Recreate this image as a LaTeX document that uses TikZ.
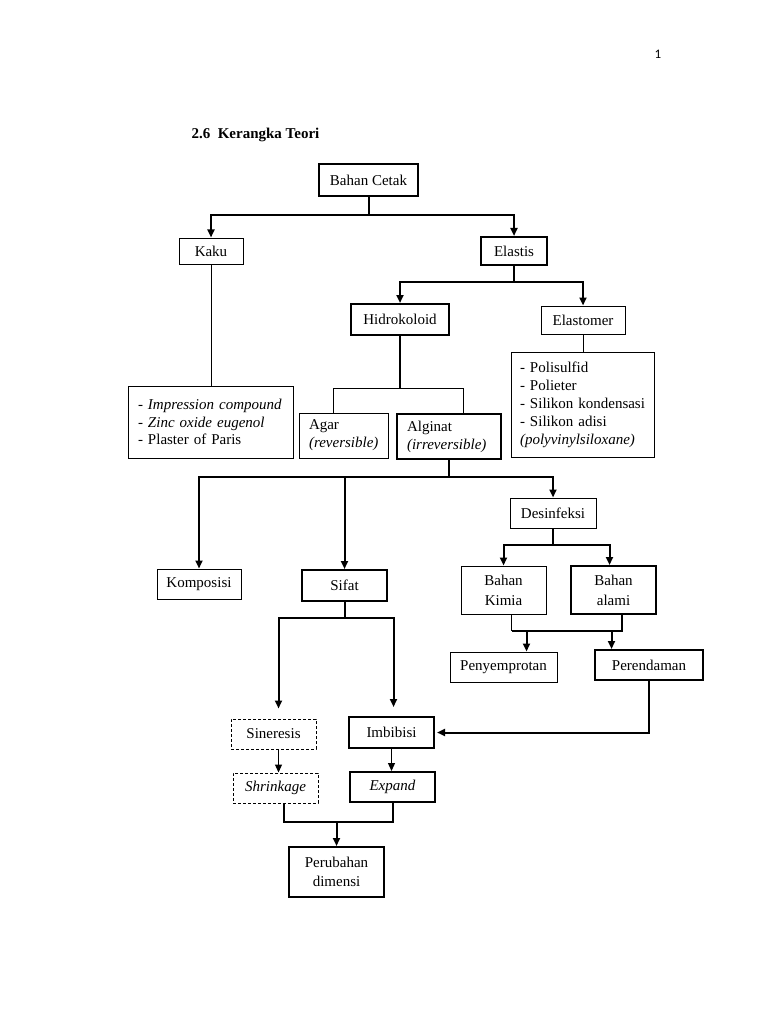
\documentclass[tikz,border=0pt]{standalone}
\usepackage{fontspec}
\setmainfont{Liberation Serif}
\newfontfamily\pagenofont{Carlito}
\usetikzlibrary{arrows.meta}

\begin{document}
\begin{tikzpicture}[x=1pt,y=-1pt,
	font=\fontsize{15}{18}\selectfont,
	box/.style={draw,line width=1pt,inner sep=0pt,align=center},
	boldbox/.style={box,line width=2pt},
	dashbox/.style={box,dash pattern=on 3pt off 2pt},
	listbox/.style={box,align=left},
	arr/.style={line width=2pt,-{Triangle[length=8pt,width=7pt]}},
	arrthin/.style={line width=1.2pt,-{Triangle[length=8pt,width=7pt]}},
	thickline/.style={line width=2pt},
	thinline/.style={line width=1pt}]
	\useasboundingbox[fill=white] (0,0) rectangle (768,1024);
	\node[anchor=base,font=\pagenofont\fontsize{13}{15}\selectfont] (pg) at (658,59) {1};
	\node[anchor=base west,font=\bfseries\fontsize{15}{18}\selectfont] (judul) at (188,139) {2.6\ \ Kerangka Teori};
	% kotak-kotak
	\node[boldbox,minimum width=99,minimum height=32] (bahan) at (368.5,180) {Bahan Cetak};
	\node[box,minimum width=64,minimum height=26] (kaku) at (211,251) {Kaku};
	\node[boldbox,minimum width=66,minimum height=28] (elastis) at (514,251) {Elastis};
	\node[boldbox,minimum width=98,minimum height=31] (hidro) at (400,319.5) {Hidrokoloid};
	\node[box,minimum width=84,minimum height=28] (elastomer) at (583,320) {Elastomer};
	\node[listbox,minimum width=165,minimum height=72,text width=145,font=\fontsize{15}{17.5}\selectfont] (kakulist) at (210.5,422)
		{- \textit{Impression compound}\\- \textit{Zinc oxide eugenol}\\- Plaster of Paris};
	\node[listbox,minimum width=89,minimum height=45,text width=69] (agar) at (343.5,435.5) {Agar\\\textit{(reversible)}};
	\node[boldbox,align=left,minimum width=104,minimum height=45,text width=84] (alginat) at (449,436.5) {Alginat\\\textit{(irreversible)}};
	\node[listbox,minimum width=143,minimum height=105,text width=125] (elaslist) at (582.5,404.5)
		{- Polisulfid\\- Polieter\\- Silikon kondensasi\\- Silikon adisi\\\textit{(polyvinylsiloxane)}};
	\node[box,minimum width=86,minimum height=30] (desinf) at (553,513) {Desinfeksi};
	\node[box,minimum width=84,minimum height=30] (komposisi) at (199,584) {Komposisi};
	\node[boldbox,minimum width=85,minimum height=31] (sifat) at (344.5,585.5) {Sifat};
	\node[box,minimum width=85,minimum height=48,font=\fontsize{15}{20}\selectfont] (kimia) at (503.5,590) {Bahan\\Kimia};
	\node[boldbox,minimum width=85,minimum height=48,font=\fontsize{15}{20}\selectfont] (alami) at (613.5,590) {Bahan\\alami};
	\node[box,minimum width=107,minimum height=30] (semprot) at (503.5,667) {Penyemprotan};
	\node[boldbox,minimum width=108,minimum height=30] (rendam) at (649,665) {Perendaman};
	\node[dashbox,minimum width=85,minimum height=30] (siner) at (273.5,734) {Sineresis};
	\node[boldbox,minimum width=85,minimum height=31] (imbib) at (391.5,732.5) {Imbibisi};
	\node[dashbox,minimum width=85,minimum height=30] (shrink) at (275.5,788) {\textit{Shrinkage}};
	\node[boldbox,minimum width=85,minimum height=30] (expand) at (392.5,787) {\textit{Expand}};
	\node[boldbox,minimum width=95,minimum height=50,font=\fontsize{15}{19}\selectfont] (ubah) at (336.5,872) {Perubahan\\dimensi};
	% garis penghubung
	\draw[arr] (bahan.south) -- ++(0,18) -| (kaku.north);
	\draw[arr] (bahan.south) -- ++(0,18) -| (elastis.north);
	\draw[thinline] (kaku.south) -- (kaku.south |- kakulist.north);
	\draw[arr] (elastis.south) -- ++(0,16) -| (hidro.north);
	\draw[arr] (elastis.south) -- ++(0,16) -| (elastomer.north);
	\draw[thinline] (elastomer.south) -- (elastomer.south |- elaslist.north);
	\draw[thickline] (hidro.south) -- ++(0,52) coordinate (hbawah);
	\draw[thinline] (hbawah) -| ([xshift=-10pt]agar.north);
	\draw[thinline] (hbawah) -| ([xshift=14pt]alginat.north);
	\draw[arr] (alginat.south) -- ++(0,17) -| (komposisi.north);
	\draw[arr] (alginat.south) -- ++(0,17) -| (sifat.north);
	\draw[arr] (alginat.south) -- ++(0,17) -| (desinf.north);
	\draw[arr] (desinf.south) -- ++(0,16) -| (kimia.north);
	\draw[arr] (desinf.south) -- ++(0,16) -| ([xshift=-4pt]alami.north);
	\draw[thinline] ([xshift=8pt]kimia.south) -- ++(0,16) coordinate (kbawah);
	\draw[thickline] (kbawah) -| ([xshift=8pt]alami.south);
	\draw[arr] ([xshift=15pt]kbawah) -- ([xshift=15pt]kbawah |- semprot.north);
	\draw[arr] ([xshift=100pt]kbawah) -- ([xshift=100pt]kbawah |- rendam.north);
	\draw[arr,shorten >=2pt] (rendam.south) |- (imbib.east);
	\draw[arr,shorten >=10pt] (sifat.south) -- ++(0,16) -| ([xshift=5pt]siner.north);
	\draw[arr,shorten >=9pt] (sifat.south) -- ++(0,16) -| ([xshift=2pt]imbib.north);
	\draw[arrthin] ([xshift=5pt]siner.south) -- ([xshift=5pt]siner.south |- shrink.north);
	\draw[arrthin] (imbib.south) -- (imbib.south |- expand.north);
	\draw[thickline] ([xshift=8pt]shrink.south) -- ++(0,18) coordinate (sbawah) -| (expand.south);
	\draw[arr] (ubah.north |- sbawah) -- (ubah.north);
\end{tikzpicture}
\end{document}
